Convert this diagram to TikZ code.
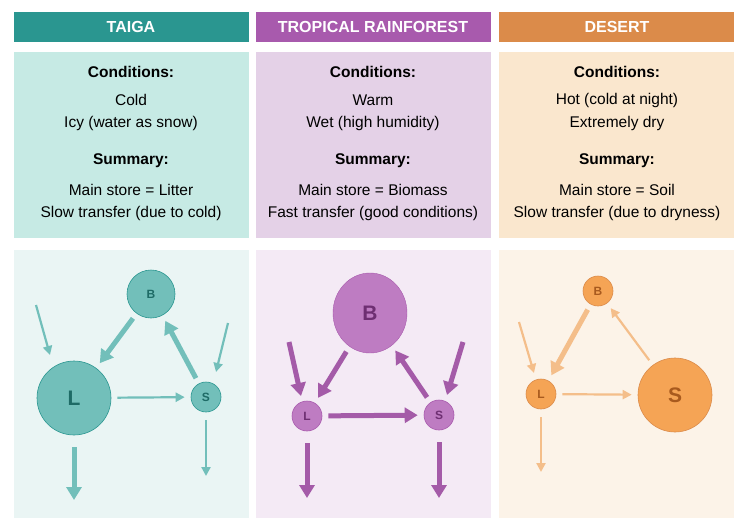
\documentclass[tikz,border=0pt]{standalone}
\usepackage{fontspec}
\setmainfont{Liberation Sans}
\usetikzlibrary{arrows.meta,shapes.geometric}
\definecolor{tA}{HTML}{2A9690}\definecolor{tB}{HTML}{C6EAE4}\definecolor{tC}{HTML}{EAF5F4}\definecolor{tN}{HTML}{72BFBA}\definecolor{tT}{HTML}{1E6B66}
\definecolor{pA}{HTML}{A85AAD}\definecolor{pB}{HTML}{E4D1E7}\definecolor{pC}{HTML}{F4EAF5}\definecolor{pN}{HTML}{BE7CC2}\definecolor{pT}{HTML}{6E2F72}\definecolor{pR}{HTML}{A45BA8}
\definecolor{oA}{HTML}{DB8B4A}\definecolor{oB}{HTML}{FAE7CE}\definecolor{oC}{HTML}{FCF3E8}\definecolor{oN}{HTML}{F5A455}\definecolor{oT}{HTML}{A85A1E}\definecolor{oR}{HTML}{F4BE8A}
\tikzset{hdr/.style={font=\bfseries\fontsize{16}{18}\selectfont,text=white},
txt/.style={font=\fontsize{15.5}{18}\selectfont,align=center},
btxt/.style={font=\bfseries\fontsize{15.5}{18}\selectfont},
circ/.style={circle,draw=#1,line width=0.6pt,inner sep=0pt},
sml/.style={font=\bfseries\fontsize{12}{14}\selectfont},
big/.style={font=\bfseries\fontsize{21}{24}\selectfont},
thick arr/.style={line width=5pt,-{Triangle[length=13pt,width=15pt]}},
thin arr/.style={line width=2.2pt,-{Triangle[length=9pt,width=9pt]}},
gap/.style={shorten <=6pt,shorten >=6pt}}
\begin{document}
\begin{tikzpicture}[x=1pt,y=-1pt]
\useasboundingbox (0,0) rectangle (748,528);
\fill[white] (0,0) rectangle (748,528);
\foreach \x/\a/\b/\c in {14/tA/tB/tC,256/pA/pB/pC,499/oA/oB/oC}{
 \fill[\a] (\x,12) rectangle ++(235,30);
 \fill[\b] (\x,52) rectangle ++(235,186);
 \fill[\c] (\x,250) rectangle ++(235,268);}
\node[hdr] (h1) at (131,27) {TAIGA};
\node[hdr] (h2) at (373,27) {TROPICAL RAINFOREST};
\node[hdr] (h3) at (617,27) {DESERT};
\foreach \cx/\a/\b/\c/\d in {131/Cold/Icy (water as snow)/Main store = Litter/Slow transfer (due to cold),
 373/Warm/Wet (high humidity)/Main store = Biomass/Fast transfer (good conditions),
 617/Hot (cold at night)/Extremely dry/Main store = Soil/Slow transfer (due to dryness)}{
 \node[btxt] at (\cx,72) {Conditions:};
 \node[txt] at (\cx,100) {\a};
 \node[txt] at (\cx,123) {\b};
 \node[btxt] at (\cx,161) {Summary:};
 \node[txt] at (\cx,190) {\c};
 \node[txt] at (\cx,213) {\d};}
% Taiga
\node[circ=tA,fill=tN,minimum size=48pt,text=tT,sml] (tb) at (151,294) {B};
\node[circ=tA,fill=tN,minimum size=74pt,text=tT,big] (tl) at (74,398) {L};
\node[circ=tA,fill=tN,minimum size=30pt,text=tT,sml] (ts) at (206,397) {S};
\coordinate (ti1) at (36,305);\coordinate (ti1e) at (50,355);
\coordinate (ti2) at (228,323);\coordinate (ti2e) at (216,372);
\coordinate (to1) at (74,500);\coordinate (to2) at (206,476);
\begin{scope}[draw=tN,color=tN]
\draw[thin arr] (ti1)--(ti1e);
\draw[thin arr] (ti2)--(ti2e);
\draw[thick arr,gap] (tb)--(tl);
\draw[thick arr,gap] (ts)--(tb);
\draw[thin arr,gap] (tl)--(ts);
\draw[thick arr,shorten <=12pt] (tl)--(to1);
\draw[thin arr,shorten <=8pt] (ts)--(to2);
\end{scope}
% Rainforest
\node[ellipse,draw=pA,fill=pN,minimum width=74pt,minimum height=80pt,inner sep=0pt,text=pT,big] (pb) at (370,313) {B};
\node[circ=pA,fill=pN,minimum size=30pt,text=pT,sml] (pl) at (307,416) {L};
\node[circ=pA,fill=pN,minimum size=30pt,text=pT,sml] (ps) at (439,415) {S};
\coordinate (pi1) at (289,342);\coordinate (pi1e) at (301,396);
\coordinate (pi2) at (463,342);\coordinate (pi2e) at (447,395);
\coordinate (po1) at (307,498);\coordinate (po2) at (439,498);
\begin{scope}[draw=pR,color=pR]
\draw[thick arr] (pi1)--(pi1e);
\draw[thick arr] (pi2)--(pi2e);
\draw[thick arr,gap] (pb)--(pl);
\draw[thick arr,gap] (ps)--(pb);
\draw[thick arr,gap] (pl)--(ps);
\draw[thick arr,shorten <=12pt] (pl)--(po1);
\draw[thick arr,shorten <=12pt] (ps)--(po2);
\end{scope}
% Desert
\node[circ=oA,fill=oN,minimum size=30pt,text=oT,sml] (db) at (598,291) {B};
\node[circ=oA,fill=oN,minimum size=30pt,text=oT,sml] (dl) at (541,394) {L};
\node[circ=oA,fill=oN,minimum size=74pt,text=oT,big] (ds) at (675,395) {S};
\coordinate (di1) at (519,322);\coordinate (di1e) at (534,373);
\coordinate (do1) at (541,472);
\begin{scope}[draw=oR,color=oR]
\draw[thin arr] (di1)--(di1e);
\draw[thick arr,gap] (db)--(dl);
\draw[thin arr,gap] (ds)--(db);
\draw[thin arr,gap] (dl)--(ds);
\draw[thin arr,shorten <=8pt] (dl)--(do1);
\end{scope}
\end{tikzpicture}
\end{document}
